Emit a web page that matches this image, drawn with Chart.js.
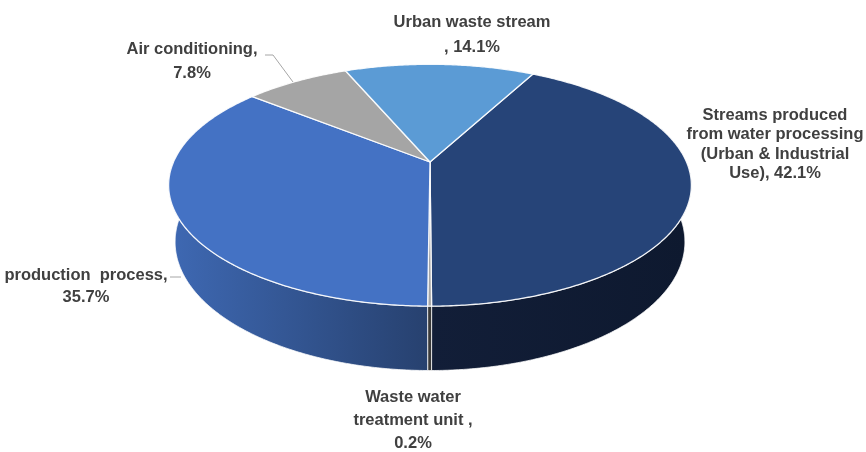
<!DOCTYPE html>
<html>
<head>
<meta charset="utf-8">
<script src="https://cdn.jsdelivr.net/npm/chart.js@4.4.1/dist/chart.umd.min.js"></script>
<style>
  html, body { margin: 0; padding: 0; background: #ffffff; }
  #wrap { width: 866px; height: 452px; position: relative; }
</style>
</head>
<body>
<div id="wrap"><canvas id="pie3d"></canvas></div>
<script>
// Sources of waste water, share of total (%)
const categories = [
    'Streams produced from water processing (Urban & Industrial Use)',
    'Waste water treatment unit',
    'production process',
    'Air conditioning',
    'Urban waste stream'
];
const shares = [42.1, 0.2, 35.7, 7.8, 14.1];

const topColors = ['#264478', '#A5A5A5', '#4472C4', '#A5A5A5', '#5B9BD5'];
// side wall gradient: colour at slice start angle, colour at slice end angle
const wallColors = [
    ['#0E192F', '#121E38'],
    ['#3A3A3A', '#3A3A3A'],
    ['#27416F', '#3E68B2'],
    ['#7F7F7F', '#7F7F7F'],
    ['#3F75A8', '#3F75A8']
];

// label text per slice, {v} is replaced with the share
const labelLayout = [
    { lines: ['Streams produced', 'from water processing', '(Urban & Industrial', 'Use), {v}'], x: 775, y: 115, step: 19.5 },
    { lines: ['Waste water', 'treatment unit ,', '{v}'], x: 413, y: 397, step: 23 },
    { lines: ['production  process,', '{v}'], x: 86, y: 275, step: 22 },
    { lines: ['Air conditioning,', '{v}'], x: 192, y: 49, step: 24 },
    { lines: ['Urban waste stream', ', {v}'], x: 472, y: 22, step: 25 }
];
const leaderLines = [
    [[265, 55], [273, 55], [293, 82]],
    [[170, 277], [181, 277]]
];

// perspective camera for the tilted disc
const TILT = 27 * Math.PI / 180;
const SIN_T = Math.sin(TILT), COS_T = Math.cos(TILT);
const VIEW_DIST = 4.64;   // in pie radii
const LENS = 7.83;        // focal length in pie radii
const THICKNESS = 0.25;   // disc height in pie radii
const STEP = Math.PI / 360;

function project(arc, theta, drop) {
    const X = Math.cos(theta), Z = Math.sin(theta), Y = -drop;
    const depth = VIEW_DIST - Y * SIN_T - Z * COS_T;
    const f = arc.outerRadius * LENS;
    return [arc.x + f * X / depth, arc.y + f * (Z * SIN_T - Y * COS_T) / depth];
}

function rimPath(ctx, arc, a, b, drop, first) {
    const n = Math.max(2, Math.ceil(Math.abs(b - a) / STEP));
    for (let i = 0; i <= n; i++) {
        const p = project(arc, a + (b - a) * i / n, drop);
        if (i === 0 && first) ctx.moveTo(p[0], p[1]);
        else ctx.lineTo(p[0], p[1]);
    }
}

const pie3d = {
    id: 'pie3d',
    beforeDatasetsDraw(chart) {
        const ctx = chart.ctx;
        const arcs = chart.getDatasetMeta(0).data;
        ctx.save();
        ctx.lineJoin = 'round';

        // front walls, only the part facing the viewer (0..PI)
        arcs.forEach((arc, i) => {
            for (const shift of [0, 2 * Math.PI, -2 * Math.PI]) {
                const a = Math.max(arc.startAngle + shift, 0);
                const b = Math.min(arc.endAngle + shift, Math.PI);
                if (b <= a) continue;
                const pa = project(arc, a, 0), pb = project(arc, b, 0);
                const grad = ctx.createLinearGradient(pa[0], 0, pb[0], 0);
                grad.addColorStop(0, wallColors[i][0]);
                grad.addColorStop(1, wallColors[i][1]);
                ctx.beginPath();
                rimPath(ctx, arc, a, b, 0, true);
                rimPath(ctx, arc, b, a, THICKNESS, false);
                ctx.closePath();
                ctx.fillStyle = grad;
                ctx.fill();
                ctx.strokeStyle = 'rgba(255,255,255,0.75)';
                ctx.lineWidth = 1;
                ctx.stroke();
            }
        });

        // top faces
        arcs.forEach((arc, i) => {
            ctx.beginPath();
            ctx.moveTo(arc.x, arc.y);
            rimPath(ctx, arc, arc.startAngle, arc.endAngle, 0, false);
            ctx.closePath();
            ctx.fillStyle = topColors[i];
            ctx.fill();
            ctx.strokeStyle = 'rgba(255,255,255,0.9)';
            ctx.lineWidth = 1.3;
            ctx.stroke();
        });
        ctx.restore();
        return false;
    },
    afterDraw(chart) {
        const ctx = chart.ctx;
        ctx.save();
        ctx.strokeStyle = '#A6A6A6';
        ctx.lineWidth = 1;
        leaderLines.forEach(pts => {
            ctx.beginPath();
            pts.forEach((p, k) => k ? ctx.lineTo(p[0], p[1]) : ctx.moveTo(p[0], p[1]));
            ctx.stroke();
        });

        ctx.fillStyle = '#404040';
        ctx.font = 'bold 16.5px "Liberation Sans", Arial, sans-serif';
        ctx.textAlign = 'center';
        ctx.textBaseline = 'middle';
        labelLayout.forEach((lab, i) => {
            const v = shares[i].toFixed(1) + '%';
            lab.lines.forEach((t, k) => {
                ctx.fillText(t.replace('{v}', v), lab.x, lab.y + k * lab.step);
            });
        });
        ctx.restore();
    }
};

new Chart(document.getElementById('pie3d'), {
    type: 'pie',
    data: {
        labels: categories,
        datasets: [{
            data: shares,
            backgroundColor: topColors,
            borderWidth: 0
        }]
    },
    options: {
        responsive: true,
        maintainAspectRatio: false,
        animation: false,
        rotation: 28,
        layout: { padding: { left: 0, right: 6, top: 10, bottom: 138 } },
        plugins: {
            legend: { display: false },
            tooltip: { enabled: false }
        }
    },
    plugins: [pie3d]
});
</script>
</body>
</html>
